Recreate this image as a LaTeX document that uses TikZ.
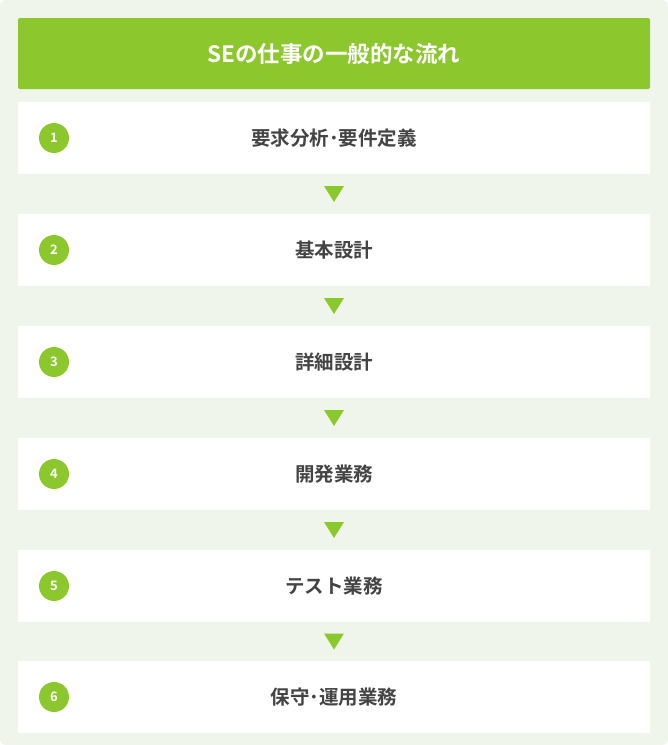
\documentclass[tikz,border=0pt]{standalone}
\usepackage{fontspec}
\usepackage{xcolor}
\usepackage{tikz}
\usetikzlibrary{calc}
\setmainfont{Noto Sans CJK JP}[BoldFont={Noto Sans CJK JP Bold}]
\definecolor{leaf}{RGB}{141,199,46}
\definecolor{panel}{RGB}{240,245,236}
\definecolor{ink}{RGB}{68,68,68}
\tikzset{
  stepbox/.style={fill=white, minimum width=632pt, minimum height=72pt, inner sep=0pt,
    text=ink, font=\bfseries\fontsize{19.5}{23}\selectfont},
  headbox/.style={fill=leaf, rounded corners=2pt, minimum width=632pt, minimum height=71pt,
    inner sep=0pt, text=white, font=\bfseries\fontsize{22.5}{26}\selectfont},
  numdot/.style={circle, fill=leaf, minimum size=30pt, inner sep=0pt, text=white,
    font=\bfseries\fontsize{13}{15}\selectfont},
  downmark/.style={fill=leaf}
}
\begin{document}
\begin{tikzpicture}[x=1pt,y=-1pt]
\useasboundingbox (0,0) rectangle (668,745);
\fill[panel, rounded corners=6pt] (0,0) rectangle (668,745);

\node[headbox] (head) at (334,53.5) {SEの仕事の一般的な流れ};

\node[stepbox] (s1) at (334,138) {要求分析･要件定義};
\node[stepbox] (s2) at (334,250) {基本設計};
\node[stepbox] (s3) at (334,362) {詳細設計};
\node[stepbox] (s4) at (334,474) {開発業務};
\node[stepbox] (s5) at (334,586) {テスト業務};
\node[stepbox] (s6) at (334,697) {保守･運用業務};

\node[numdot] (n1) at (54,138) {1};
\node[numdot] (n2) at (54,250) {2};
\node[numdot] (n3) at (54,362) {3};
\node[numdot] (n4) at (54,474) {4};
\node[numdot] (n5) at (54,586) {5};
\node[numdot] (n6) at (54,697) {6};

\coordinate (m1) at ($(s1.south)!0.5!(s2.north)$);
\coordinate (m2) at ($(s2.south)!0.5!(s3.north)$);
\coordinate (m3) at ($(s3.south)!0.5!(s4.north)$);
\coordinate (m4) at ($(s4.south)!0.5!(s5.north)$);
\coordinate (m5) at ($(s5.south)!0.5!(s6.north)$);

\fill[downmark] ($(m1)+(-10,-8)$) -- ($(m1)+(10,-8)$) -- ($(m1)+(0,8)$) -- cycle;
\fill[downmark] ($(m2)+(-10,-8)$) -- ($(m2)+(10,-8)$) -- ($(m2)+(0,8)$) -- cycle;
\fill[downmark] ($(m3)+(-10,-8)$) -- ($(m3)+(10,-8)$) -- ($(m3)+(0,8)$) -- cycle;
\fill[downmark] ($(m4)+(-10,-8)$) -- ($(m4)+(10,-8)$) -- ($(m4)+(0,8)$) -- cycle;
\fill[downmark] ($(m5)+(-10,-8)$) -- ($(m5)+(10,-8)$) -- ($(m5)+(0,8)$) -- cycle;

\end{tikzpicture}
\end{document}
